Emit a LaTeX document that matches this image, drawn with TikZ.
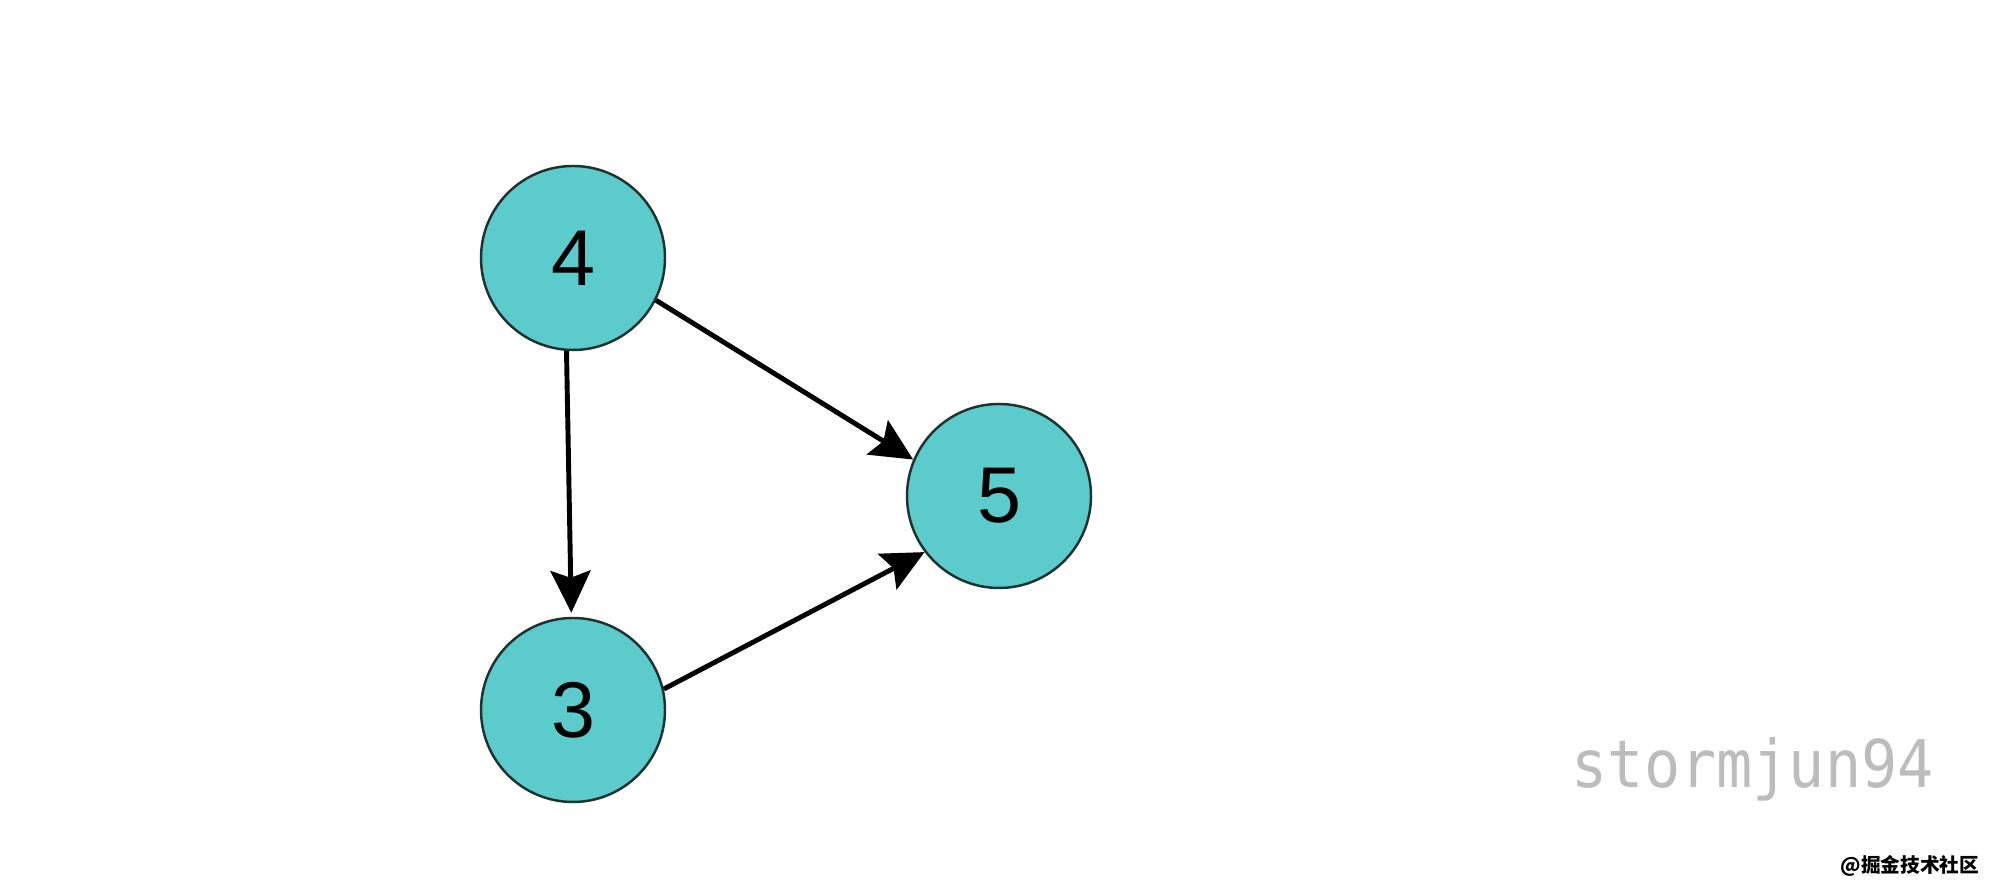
\documentclass[tikz,border=0pt]{standalone}
\usepackage{fontspec}
\setmainfont{Liberation Sans}
\newfontfamily\wmfont{DejaVu Sans Mono}
\newfontfamily\cjkfont{Noto Sans CJK SC}
\usetikzlibrary{arrows.meta}
\definecolor{nodefill}{RGB}{91,203,203}
\definecolor{nodeedge}{RGB}{30,50,50}
\definecolor{wmgray}{RGB}{188,188,188}
\tikzset{
  vertex/.style={circle, draw=nodeedge, line width=0.7pt, fill=nodefill, minimum size=1.84cm, inner sep=0pt, font=\fontsize{22.5}{22}\selectfont},
  edge/.style={line width=1.4pt, -{Stealth[length=0.42cm, width=0.4cm, inset=0.07cm]}}
}
\begin{document}
\begin{tikzpicture}
\useasboundingbox (0,0) rectangle (20,8.93);
\fill[white] (0,0) rectangle (20,8.93);
\node[vertex] (n4) at (5.73,6.35) {4};
\node[vertex] (n3) at (5.73,1.83) {3};
\node[vertex] (n5) at (9.99,3.97) {5};
\draw[edge, shorten >=0.04cm] (n4.-94) -- (n3.91);
\draw[edge] (n4.-27) -- (n5.157);
\draw[edge] (n3.13) -- (n5.-143);
\node[anchor=base west, text=wmgray, inner sep=0pt] (wm) at (15.71,1.05) {\scalebox{0.915}[1]{\wmfont\fontsize{18.7}{20}\selectfont stormjun94}};
\node[anchor=base east, inner sep=0pt] (jj) at (19.8,0.2) {\cjkfont\bfseries\fontsize{5.6}{6}\selectfont @掘金技术社区};
\end{tikzpicture}
\end{document}
